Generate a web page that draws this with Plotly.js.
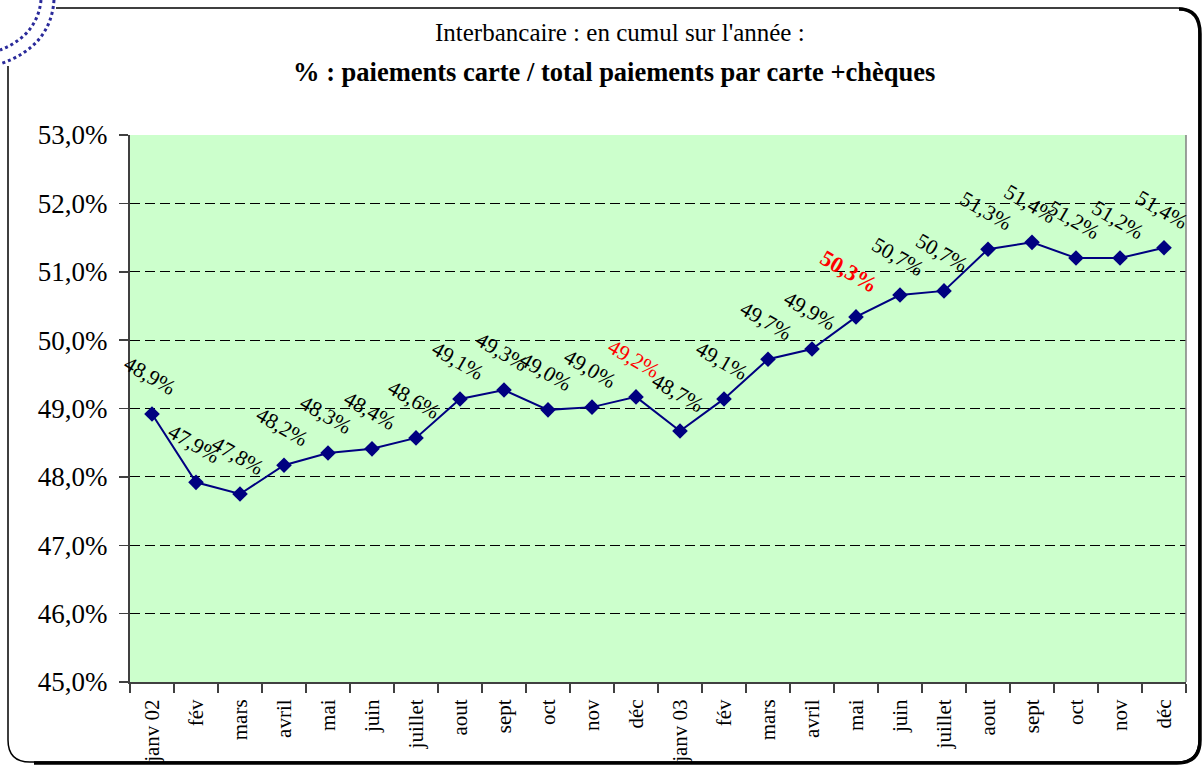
<!DOCTYPE html>
<html>
<head>
<meta charset="utf-8">
<script src="https://cdn.plot.ly/plotly-3.0.1.min.js"></script>
<style>html,body{margin:0;padding:0;background:#fff;}#chart{width:1204px;height:765px;}</style>
</head>
<body>
<div id="chart"></div>
<script>
// ---- data ----
const months = ["janv 02","fév","mars","avril","mai","juin","juillet","aout","sept","oct","nov","déc",
                "janv 03","fév","mars","avril","mai","juin","juillet","aout","sept","oct","nov","déc"];
const values = [48.92,47.92,47.75,48.17,48.35,48.41,48.57,49.14,49.27,48.98,49.02,49.17,
                48.67,49.14,49.72,49.87,50.34,50.66,50.72,51.33,51.43,51.20,51.20,51.35];
const labels = ["48,9%","47,9%","47,8%","48,2%","48,3%","48,4%","48,6%","49,1%","49,3%","49,0%","49,0%","49,2%",
                "48,7%","49,1%","49,7%","49,9%","50,3%","50,7%","50,7%","51,3%","51,4%","51,2%","51,2%","51,4%"];
const yTicks = [45,46,47,48,49,50,51,52,53];
const yTickText = ["45,0%","46,0%","47,0%","48,0%","49,0%","50,0%","51,0%","52,0%","53,0%"];
const titleLine1 = "Interbancaire : en cumul sur l'année :";
const titleLine2 = "% : paiements carte / total paiements par carte +chèques";
const redLabel = 11;      // déc 02
const redBoldLabel = 16;  // mai 03

// ---- layout helpers (pixel -> paper) ----
const L = 130, R = 1186, T = 135, B = 682;
const px = x => (x - L) / (R - L);
const py = y => (B - y) / (B - T);
const idx = months.map((_, i) => i);
const FONT = "Liberation Serif";

const trace = {
  x: idx, y: values, type: 'scatter', mode: 'lines+markers',
  line: {color: '#000080', width: 2},
  marker: {symbol: 'diamond', size: 12, color: '#000080'},
  hoverinfo: 'skip', showlegend: false
};

const annotations = labels.map((t, i) => {
  const isRed = i === redLabel || i === redBoldLabel;
  const bold = i === redBoldLabel;
  return {
    x: i, y: values[i], xref: 'x', yref: 'y',
    text: bold ? '<b>' + t + '</b>' : t,
    showarrow: false, textangle: 30,
    xshift: bold ? -7 : -2, yshift: bold ? 45 : 38,
    font: {family: FONT, size: bold ? 22.5 : 21.5, color: isRed ? '#ff0000' : '#000000'}
  };
});
annotations.push({
  xref: 'paper', yref: 'paper', x: px(620), y: py(33), xanchor: 'center', yanchor: 'middle',
  text: titleLine1, showarrow: false, font: {family: FONT, size: 25, color: '#000'}
});
annotations.push({
  xref: 'paper', yref: 'paper', x: px(614), y: py(72), xanchor: 'center', yanchor: 'middle',
  text: '<b>' + titleLine2 + '</b>', showarrow: false, font: {family: FONT, size: 26.5, color: '#000'}
});

function P(x, y) { return px(x).toFixed(5) + ',' + py(y).toFixed(5); }
const fx0 = 8, fy0 = 8, fx1 = 1199, fy1 = 762, rr = 22;
const framePath = 'M' + P(fx0 + rr, fy0) + ' L' + P(fx1 - rr, fy0) + ' Q' + P(fx1, fy0) + ' ' + P(fx1, fy0 + rr) +
  ' L' + P(fx1, fy1 - rr) + ' Q' + P(fx1, fy1) + ' ' + P(fx1 - rr, fy1) +
  ' L' + P(fx0 + rr, fy1) + ' Q' + P(fx0, fy1) + ' ' + P(fx0, fy1 - rr) +
  ' L' + P(fx0, fy0 + rr) + ' Q' + P(fx0, fy0) + ' ' + P(fx0 + rr, fy0) + ' Z';
const shadowPath = 'M' + P(fx1 - rr + 2, fy0 + 1) + ' Q' + P(fx1 + 1, fy0 + 1) + ' ' + P(fx1 + 1, fy0 + rr + 4) +
  ' L' + P(fx1 + 1, fy1 - rr) + ' Q' + P(fx1 + 1, fy1 + 1) + ' ' + P(fx1 - rr, fy1 + 1) + ' L' + P(fx0 + rr + 4, fy1 + 1);

const shapes = [
  {type: 'path', xref: 'paper', yref: 'paper', path: framePath, line: {color: '#000', width: 1.5}},
  {type: 'path', xref: 'paper', yref: 'paper', path: shadowPath, line: {color: '#000', width: 3.5}},
  {type: 'rect', xref: 'paper', yref: 'paper', x0: px(0), x1: px(56), y0: py(0), y1: py(66),
   fillcolor: '#ffffff', line: {width: 0}},
  {type: 'path', xref: 'paper', yref: 'paper', path: 'M' + P(54, 0) + ' C' + P(52, 30) + ' ' + P(35, 52) + ' ' + P(0, 64),
   line: {color: '#2a2a9a', width: 3, dash: 'dot'}},
  {type: 'path', xref: 'paper', yref: 'paper', path: 'M' + P(41, 0) + ' C' + P(39, 22) + ' ' + P(26, 40) + ' ' + P(0, 50),
   line: {color: '#2a2a9a', width: 3, dash: 'dot'}},
  {type: 'line', xref: 'paper', yref: 'paper', x0: 1, x1: 1, y0: 0, y1: 1, line: {color: '#808080', width: 1.5}}
];

const layout = {
  width: 1204, height: 765,
  margin: {l: L, r: 1204 - R, t: T, b: 765 - B, pad: 0},
  paper_bgcolor: '#ffffff', plot_bgcolor: '#ccffcc',
  font: {family: FONT, color: '#000'},
  xaxis: {
    range: [-0.5, months.length - 0.5], tickmode: 'array', tickvals: idx, ticktext: months,
    tickangle: -90, ticks: '', showgrid: false, zeroline: false,
    showline: true, linecolor: '#404040', linewidth: 2,
    tickfont: {family: FONT, size: 21, color: '#000'}, ticklabelstandoff: 7,
    minor: {tickmode: 'array', tickvals: idx.concat([months.length]).map(v => v - 0.5),
            ticks: 'outside', ticklen: 9, tickwidth: 1.5, tickcolor: '#404040', showgrid: false}
  },
  yaxis: {
    range: [yTicks[0], yTicks[yTicks.length - 1]], tickmode: 'array', tickvals: yTicks, ticktext: yTickText,
    ticks: 'outside', ticklen: 9, tickwidth: 1.5, tickcolor: '#404040',
    showline: true, linecolor: '#404040', linewidth: 2, zeroline: false,
    showgrid: true, gridcolor: '#000000', gridwidth: 1, griddash: '10px,5px',
    tickfont: {family: FONT, size: 27, color: '#000'}, ticklabelstandoff: 6
  },
  annotations: annotations,
  shapes: shapes
};

Plotly.newPlot('chart', [trace], layout, {staticPlot: true, displayModeBar: false});
</script>
</body>
</html>
